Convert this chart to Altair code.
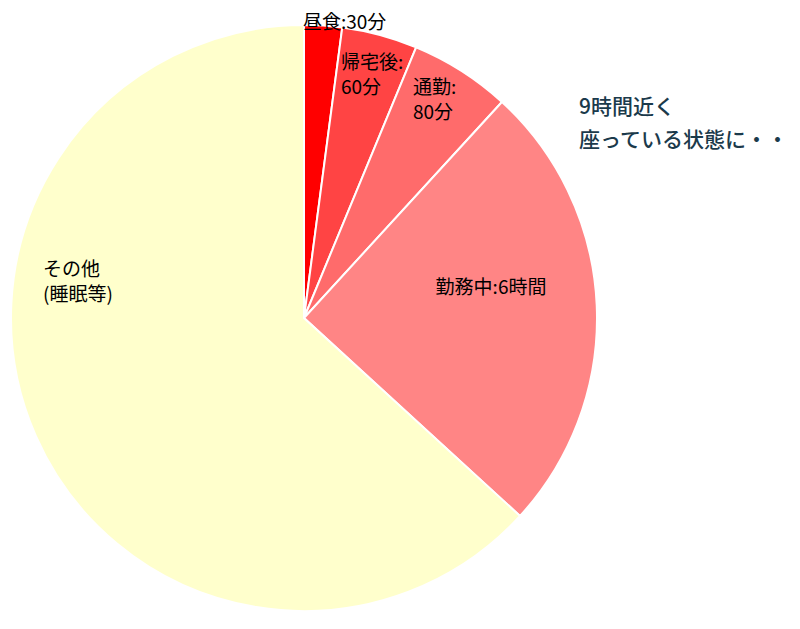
import altair as alt
import pandas as pd

categories = ["昼食", "帰宅後", "通勤", "勤務中", "その他"]
minutes = [30, 60, 80, 360, 910]
colors = ["#FF0000", "#FF4444", "#FF6B6B", "#FF8585", "#FFFFCC"]

label_lines = [
    ["昼食:30分"],
    ["帰宅後:", "60分"],
    ["通勤:", "80分"],
    ["勤務中:6時間"],
    ["その他", "(睡眠等)"],
]
note_lines = ["9時間近く", "座っている状態に・・"]

df = pd.DataFrame({"cat": categories, "minutes": minutes, "idx": list(range(len(categories)))})

FONT = "Noto Sans CJK JP"
CX, CY, R = 296, 310, 293

pie = alt.Chart(df).mark_arc(radius=R, stroke="white", strokeWidth=2).encode(
    theta=alt.Theta("minutes:Q", stack=True),
    color=alt.Color("cat:N", scale=alt.Scale(domain=categories, range=colors), legend=None),
    order=alt.Order("idx:Q"),
    x=alt.value(CX),
    y=alt.value(CY),
)

label_pos = [(295, 15, "left"), (333, 55, "left"), (405, 80, "left"), (483, 280, "center"), (35, 262, "left")]
layers = [pie]
for lines, (px, py, al) in zip(label_lines, label_pos):
    t = alt.Chart(pd.DataFrame({"t": [lines]})).mark_text(
        font=FONT, fontSize=19, color="#000000", align=al, baseline="middle", lineHeight=25
    ).encode(text="t", x=alt.value(px), y=alt.value(py))
    layers.append(t)

note = alt.Chart(pd.DataFrame({"t": [note_lines]})).mark_text(
    font=FONT, fontSize=21, fontWeight=500, color="#1B3A4B", align="left", baseline="middle", lineHeight=33
).encode(text="t", x=alt.value(571), y=alt.value(100))
layers.append(note)

chart = alt.layer(*layers).properties(
    width=784, height=613, padding=0, autosize=alt.AutoSizeParams(type="none")
).configure_view(stroke=None)

chart.save("out.html", embed_options={"renderer": "svg", "actions": False})
